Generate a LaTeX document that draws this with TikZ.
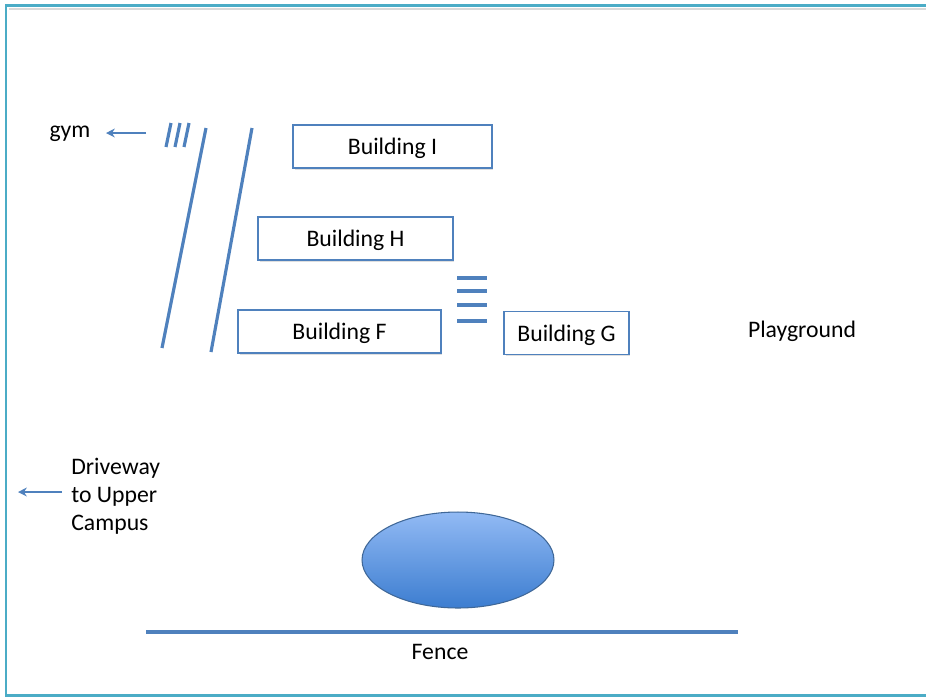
\documentclass[tikz,border=0pt]{standalone}
\usepackage{fontspec}
\setmainfont{Carlito}
\usetikzlibrary{arrows.meta, shadows, shapes.geometric}
\definecolor{frameteal}{RGB}{75,172,198}
\definecolor{lineblue}{RGB}{79,129,189}
\definecolor{ovaltop}{RGB}{146,186,244}
\definecolor{ovalbot}{RGB}{60,125,208}
\tikzset{
    % box for one building
    building/.style={draw=lineblue, line width=1pt, fill=white,
        drop shadow={shadow xshift=0.03cm, shadow yshift=-0.03cm, opacity=0.25},
        minimum height=0.86cm, inner sep=0pt, text height=12pt, text depth=2.7pt},
    plain/.style={inner sep=0pt, font=\fontsize{13.5}{15.9}\selectfont},
    road/.style={draw=lineblue, line width=1.8pt},
    pointer/.style={draw=lineblue, line width=1.4pt, -{Stealth[length=5pt, width=5pt]}}
}
\begin{document}
\begin{tikzpicture}[x=0.02cm, y=-0.02cm, font=\fontsize{13.5}{15.9}\selectfont]
    \useasboundingbox (0,0) rectangle (926,698);
    \draw[frameteal, line width=1.7pt] (6,5) rectangle (940,695);
    \draw[black!15, line width=0.8pt] (9,9) -- (926,9);

    % buildings
    \node[building, minimum width=3.98cm] (bI) at (392.5,146.5) {Building I};
    \node[building, minimum width=3.90cm] (bH) at (355.5,238.5) {Building H};
    \node[building, minimum width=4.06cm] (bF) at (339.5,331.5) {Building F};
    \node[building, minimum width=2.50cm] (bG) at (566.5,333) {Building G};

    % other labels
    \node[plain] (play) at (802,331) {Playground};
    \node[plain] (gym) at (70,134) {gym};
    \node[plain, align=left, anchor=west] (drive) at (71,496) {Driveway\\to Upper\\Campus};
    \node[plain] (fence) at (440,652) {Fence};

    % path to the gym
    \coordinate (gymtail) at (146,133);
    \coordinate (gymtip) at (106,133);
    \draw[pointer] (gymtail) -- (gymtip);
    \foreach \x in {0,9,18} {
        \draw[road] (171+\x,123) -- (166+\x,147);
    }
    \draw[road] (206,128) -- (162,348);
    \draw[road] (252,128) -- (211,352);

    % stairs next to G
    \foreach \y in {278,291,305,321} {
        \draw[road] (457,\y) -- (487,\y);
    }

    % driveway
    \coordinate (drivetail) at (62,492);
    \coordinate (drivetip) at (18,492);
    \draw[pointer] (drivetail) -- (drivetip);

    % field and fence
    \node[ellipse, draw=lineblue!80!black, line width=0.6pt,
        top color=ovaltop, bottom color=ovalbot,
        minimum width=3.84cm, minimum height=1.92cm, inner sep=0pt] (field) at (458,560) {};
    \coordinate (fenceL) at (146,632);
    \coordinate (fenceR) at (738,632);
    \draw[road] (fenceL) -- (fenceR);
\end{tikzpicture}
\end{document}
